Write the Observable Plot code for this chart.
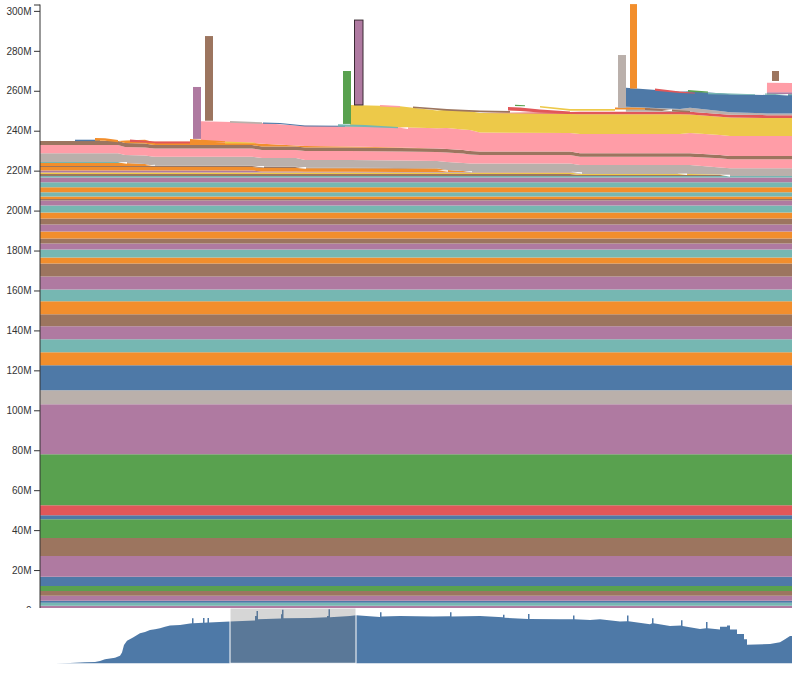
<!DOCTYPE html>
<html>
<head>
<meta charset="utf-8">
<script src="https://cdn.jsdelivr.net/npm/d3@7"></script>
<script src="https://cdn.jsdelivr.net/npm/@observablehq/plot@0.6"></script>
<style>
html,body{margin:0;padding:0;background:#fff;width:800px;height:673px;overflow:hidden}
svg{display:block}
</style>
</head>
<body>
<div id="main"></div>
<div id="overview"></div>
<script>
const [BLUE,ORANGE,RED,TEAL,GREEN,YELLOW,PURPLE,PINK,BROWN,GRAY]=["#4e79a7","#f28e2c","#e15759","#76b7b2","#59a14f","#edc949","#af7aa1","#ff9da7","#9c755f","#bab0ab"];
const GAP="#ffffff";

// steady layers, bottom to top (millions)
const steadyColors=[PURPLE,TEAL,BLUE,PURPLE,BROWN,GREEN,BLUE,PURPLE,BROWN,GREEN,BLUE,RED,GREEN,PURPLE,GRAY,BLUE,ORANGE,TEAL,PURPLE,BROWN,ORANGE,TEAL,PURPLE,BROWN,ORANGE,TEAL,PURPLE,BROWN,ORANGE,PURPLE,BROWN,ORANGE,TEAL,PURPLE,BROWN,ORANGE,TEAL,ORANGE,TEAL,PURPLE,TEAL];
const steadyValues=[2.15,1.5,1,2.5,2.35,2.5,4.65,10.35,9,9.5,2,5,25.55,25,7,12.5,6.5,6.5,6.5,6,6.5,6,6.5,6.5,3,4,3,2.5,3.5,3.5,3,3,3.5,2.5,0.75,1.25,2.15,2.5,2.5,2.35,0.8];

// moments at which the changing layers were read
const moments=[0,78,85,105,112,115,160.9,161,212,222,256,265,309.9,310,360,397,407,423,430,440,530,540,585.9,586,640,650,680,690,726.9,727,752];
const brownA =[1,1,1,1,1,1,1,1,1,1,1,1,1,1,1,1,1,1,1,1,1,.5,.5,.5,.5,.5,.5,0,0,0,0];
const goldA  =[.75,.75,.75,.75,.75,.75,.75,.75,.75,.75,.75,.75,.75,.75,.75,.75,.75,.75,.75,.75,.75,.5,.5,.5,.5,.5,.25,0,0,0,0];
const purpleB=[1,1,1,1,1,1,1,1,1,.5,.5,.3,.3,.3,.25,.2,.25,.25,.25,.25,.25,0,0,0,0,0,0,0,0,0,0];
const orangeC=[1.75,1.75,1.75,1.75,1.75,1.75,1.75,1.75,1.75,1.75,1.75,1.75,1.75,1.75,1.75,1.75,1,.5,0,0,0,0,0,0,0,0,0,0,0,0,0];
const brownD =[.5,.5,.5,.5,.5,.65,.65,.65,.65,.65,.65,.35,.35,.35,.25,.15,0,0,0,0,0,0,0,0,0,0,0,0,0,0,0];
const orangeE=[1.5,1.5,1.5,1,.25,0,0,0,0,0,0,0,0,0,0,0,0,0,0,0,0,0,0,0,0,0,0,0,0,0,0];
const tealF  =[.5,.5,0,0,0,0,0,0,0,0,0,0,0,0,0,0,0,0,0,0,0,0,0,0,0,0,0,0,0,0,0];
const grayMain=[4.35,4.35,4,4.25,4.5,4.5,4.5,4.5,4.5,4.35,4.35,3.85,3.85,3.85,3.75,3.65,4,4,4.25,4.25,4.25,4.5,4.5,4.5,4.5,4.5,3.5,3.85,3.85,3.85,3.85];
const pinkLow=[4.15,4.15,4,4,4.15,4.15,4.15,4.15,4.15,4,4,4.5,4.5,4.5,4.5,4.5,4.75,4.75,4.5,4.25,4.25,4.15,4.15,4.15,4.15,4.15,4.6,4.5,4.5,4.5,4.5];
const brownMain=[2,2,2,2,1.7,1.7,1.7,1.7,1.7,1.7,1.7,1.7,1.7,1.7,1.7,1.7,1.7,1.7,1.7,1.7,1.7,1.7,1.7,1.7,1.7,1.7,1.7,1.7,1.7,1.7,1.7];
const orangeG=[0,0,1.25,1.85,1.5,1.65,1.65,1.65,1.1,1.4,.5,.75,.55,.55,.3,0,0,0,0,0,0,0,0,0,0,0,0,0,0,0,0];
const pinkUp =[0,0,0,0,0,0,0,10.3,10.15,10.35,10,10.15,10.15,10.15,10.15,10.15,10.6,10.25,10.5,9.5,9.35,9.7,9.7,9.7,9.7,10.15,9.9,10,10,10,10];
const yellow =[0,0,0,0,0,0,0,0,0,0,0,0,0,10.6,10.5,8.9,9.05,9.5,9.5,9.85,9.5,9.85,9.85,9.85,9.85,9.3,9.2,9.2,9,9,9];
const redMain=[0,0,0,0,0,0,0,0,0,0,0,0,0,0,0,0,0,0,0,0,1,1.3,1.3,1.3,1.3,1.3,1.4,1.4,1.4,1.4,1.4];
const grayTop=[0,0,0,0,0,0,0,0,0,0,0,0,0,0,0,0,0,0,0,0,0,0,0,2.4,1.3,2,1.5,1.3,.85,.85,.85];
const blueTop=[0,0,0,0,0,0,0,0,0,0,0,0,0,0,0,0,0,0,0,0,0,0,0,9.6,8.6,8.35,8.85,9,9.25,9.25,9.25];
const purpleK=[0,0,0,0,0,0,0,0,0,0,0,0,0,0,0,0,0,0,0,0,0,0,0,0,0,0,0,0,0,1.3,1.3];
const pinkJ  =[0,0,0,0,0,0,0,0,0,0,0,0,0,0,0,0,0,0,0,0,0,0,0,0,0,0,0,0,0,4.85,4.7];

const changing=[[BROWN,brownA],[YELLOW,goldA],[PURPLE,purpleB],[ORANGE,orangeC],[BROWN,brownD],[ORANGE,orangeE],[TEAL,tealF],[GRAY,grayMain],[PINK,pinkLow],[BROWN,brownMain],[ORANGE,orangeG],[PINK,pinkUp],[YELLOW,yellow],[RED,redMain],[GRAY,grayTop],[BLUE,blueTop],[PURPLE,purpleK],[PINK,pinkJ]];

// thin short-lived series on the upper edge, and the small gaps between series: colour, times, low, high
const ribbons=[
 [BLUE,[35,60],[234.8,234.8],[235.5,235.5]],
 [ORANGE,[55,65,78],[235,235,234.2],[236.4,236.2,235.4]],
 [RED,[90,115],[234.4,233.8],[235.6,234.6]],
 [RED,[115,150],[233.6,233.6],[234.6,234.6]],
 [ORANGE,[150,185],[234.4,234.4],[235.9,234.7]],
 [YELLOW,[185,215],[233.6,233.6],[234.6,234]],
 [GRAY,[190,222],[244,243.3],[244.9,244.2]],
 [BLUE,[223,240,265,305],[243.5,243.4,242.1,242],[244.1,243.9,242.6,242.5]],
 [TEAL,[298,325,358],[242.1,241.9,241.2],[243.2,242.9,241.9]],
 [PINK,[340,360],[252.1,251.6],[252.9,252.4]],
 [BROWN,[373,407,440,470],[251.4,250,249.2,249],[252.1,250.9,250.1,249.9]],
 [RED,[468,480,500,530],[250.1,249.9,249.1,248.6],[251.9,251.6,250.6,249.6]],
 [GREEN,[475,485],[252.4,252.2],[253,252.8]],
 [YELLOW,[500,530,575],[251.6,250,250],[252.4,250.9,250.9]],
 [ORANGE,[575,610],[250.6,250.6],[251.6,251.4]],
 [BROWN,[605,650],[250.4,249.1],[251.4,249.9]],
 [RED,[615,640,655],[260,258.9,258.6],[261.1,259.6,259]],
 [GREEN,[648,668],[259.5,259],[260.4,259.6]],
 [TEAL,[668,715],[258.2,257.9],[259,258.3]],
 [TEAL,[725,752],[258,257.8],[258.6,258.2]],
 [GAP,[78,87],[224.1,223.5],[224.1,224.3]],
 [GAP,[105,115],[222.6,222.4],[222.6,223]],
 [GAP,[212,224],[222.2,221.6],[222.2,222.3]],
 [GAP,[255,266],[221.5,221],[221.5,221.8]],
 [GAP,[360,368],[241.5,240.8],[241.5,241.7]],
 [GAP,[397,408],[220.2,219.5],[220.2,220.2]],
 [GAP,[425,432],[219.6,219.2],[219.6,219.7]],
 [GAP,[531,542],[219.5,218.5],[219.5,219.2]],
 [GAP,[622,632],[250.3,249.8],[250.3,250.7]],
 [GAP,[637,647],[218.4,217.8],[218.4,218.6]],
 [GAP,[680,690],[218,217],[218,218]],
 [GAP,[735,748],[258,257.6],[258,258.4]]
];

// one-period spikes above the stack
const spikeColors=[PURPLE,BROWN,GREEN,PURPLE,GRAY,ORANGE,BROWN];
const spikeStart=[153,165,303,314.5,578,590,732];
const spikeEnd=[161,173,311,323,586,597,739];
const spikeLow=[235.9,245,243.4,252.9,251.4,261.1,264.9];
const spikeHigh=[261.9,287.4,269.9,295.4,277.9,303.4,269.9];
const hoveredSpike=3;

const yTicks=[0,20,40,60,80,100,120,140,160,180,200,220,240,260,280,300];
const yTop=303.2;

// overview totals
const overviewT=[15,30,45,55,60,65,75,80,82,84,87,93,100,105,110,115,120,125,130,140,150,152,152,153.5,153.5,163,163,164.5,164.5,167.5,167.5,169,169,190,215,215,216.5,216.5,218,218,241,241,242,242,243.5,243.5,270,287,287,288.5,288.5,290,290,310,316,340,340,341.5,341.5,360,393,410,410,411.5,411.5,440,463,463,464.5,464.5,488,488,489.5,489.5,520,533,533,534.5,534.5,550,560,580,587,587,588.5,588.5,610,612,612,613.5,613.5,630,641,641,642.5,642.5,660,666,666,667.5,667.5,680,680,687,687,690,690,697,697,704,704,707,707,730,740,745,750,752];
const overviewM=[0,2,5.5,7,13,22,31,42,59,101,123,141,165,172,183,187,192,201,207,210,218,219,247,247,220,222,249,249,223,224,249,249,224,229,234,260,260,287,287,242,246,269,269,293,293,247,249,252,260,260,296,296,252.5,260,263.5,254,280,280,256,260,256,258,280,280,257,260,252,266,266,250,243,270,270,243,241,241,262,262,241,238,241,229,231,262,262,231,214,220,247,247,220,205,207,236,236,205,188,192,227,227,192,186,201,201,207,207,186,186,161,161,132,132,102,106,115,132,150,150];
const brushStart=190, brushEnd=316;

const font="'Liberation Sans',Arial,sans-serif";

const rows=[];
steadyColors.forEach((color,k)=>{
  moments.forEach(t=>rows.push({t,value:steadyValues[k],band:"s"+k,color}));
});
changing.forEach(([color,values],k)=>{
  moments.forEach((t,i)=>rows.push({t,value:values[i],band:"c"+k,color}));
});
const ribbonRows=[];
ribbons.forEach(([color,ts,lows,highs],k)=>{
  ts.forEach((t,i)=>ribbonRows.push({t,low:lows[i],high:highs[i],id:k,color}));
});
const spikes=spikeColors.map((color,i)=>({color,t1:spikeStart[i],t2:spikeEnd[i],low:spikeLow[i],high:spikeHigh[i]}));
const overviewRows=overviewT.map((t,i)=>({t,total:overviewM[i]}));

const main=Plot.plot({
  width:800,height:608,marginLeft:40,marginRight:8,marginTop:4,marginBottom:0,
  style:{fontFamily:font,fontSize:"10px",color:"#333",background:"#fff"},
  x:{domain:[0,752],range:[40,792],axis:null},
  y:{domain:[0,yTop],range:[610,4.5]},
  color:{type:"identity"},
  marks:[
    Plot.areaY(rows,{x:"t",y:"value",z:"band",fill:"color",curve:"linear"}),
    Plot.areaY(ribbonRows,{x:"t",y1:"low",y2:"high",z:"id",fill:"color",curve:"linear"}),
    Plot.rect(spikes,{x1:"t1",x2:"t2",y1:"low",y2:"high",fill:"color"}),
    Plot.rect([spikes[hoveredSpike]],{x1:"t1",x2:"t2",y1:"low",y2:"high",fill:"none",stroke:"#3a2a33",strokeWidth:1}),
    Plot.ruleX([0],{stroke:"#333",dx:-0.5,y1:0,y2:yTop}),
    Plot.axisY(yTicks,{anchor:"left",label:null,tickSize:6,tickPadding:3,stroke:"#333",tickFormat:d=>d===0?"0":d+"M"}),
    Plot.axisY([yTop],{anchor:"left",label:null,tickSize:6,stroke:"#333",tickFormat:()=>""})
  ]
});
document.getElementById("main").append(main);

const overview=Plot.plot({
  width:800,height:65,marginLeft:40,marginRight:8,marginTop:0,marginBottom:10,
  style:{background:"#fff"},
  x:{domain:[0,752],range:[40,792],axis:null},
  y:{domain:[0,yTop],range:[55.3,0],axis:null},
  marks:[
    Plot.areaY(overviewRows,{x:"t",y1:()=>0,y2:"total",fill:BLUE,curve:"linear"}),
    Plot.rect([{a:brushStart,b:brushEnd}],{x1:"a",x2:"b",y1:0,y2:yTop,fill:"#777",fillOpacity:.3,stroke:"#fff",strokeWidth:1})
  ]
});
document.getElementById("overview").append(overview);
</script>
</body>
</html>
